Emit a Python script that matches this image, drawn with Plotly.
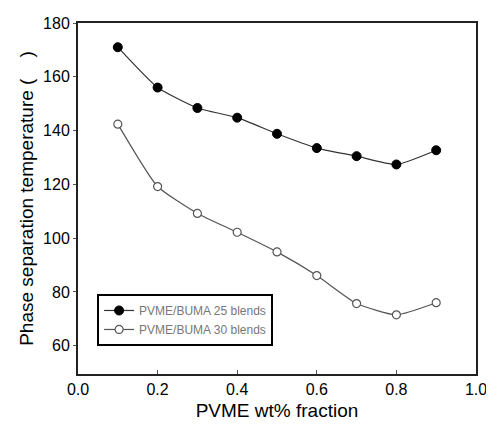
import plotly.graph_objects as go

# PVME weight fraction
pvme_frac = [0.1, 0.2, 0.3, 0.4, 0.5, 0.6, 0.7, 0.8, 0.9]

# phase separation temperature
temp_25 = [171, 156, 148.4, 144.8, 138.8, 133.5, 130.5, 127.4, 132.7]
temp_30 = [142.4, 119.2, 109.2, 102.2, 94.9, 86.1, 75.7, 71.5, 76]

series_names = ["PVME/BUMA 25 blends", "PVME/BUMA 30 blends"]

fig = go.Figure()

fig.add_trace(go.Scatter(
    x=pvme_frac, y=temp_25, mode="lines+markers", name=series_names[0],
    line=dict(color="#333333", width=1.2, shape="spline", smoothing=0.5),
    marker=dict(symbol="circle", size=9, color="black", line=dict(color="black", width=1)),
))

fig.add_trace(go.Scatter(
    x=pvme_frac, y=temp_30, mode="lines+markers", name=series_names[1],
    line=dict(color="#555555", width=1.2, shape="spline", smoothing=0.5),
    marker=dict(symbol="circle", size=8, color="white", line=dict(color="#555555", width=1.2)),
))

# page body has an 8px margin, so the figure is shifted by 8px
fig.update_layout(
    width=486, height=417,
    margin=dict(l=70, r=17, t=7, b=51),
    paper_bgcolor="white", plot_bgcolor="white",
    font=dict(family="Liberation Sans, Arial, sans-serif", size=16, color="black"),
    showlegend=True,
    legend=dict(
        x=0.048, y=0.228, xanchor="left", yanchor="top",
        bordercolor="black", borderwidth=2, bgcolor="white",
        font=dict(size=12, color="#777777"),
        tracegroupgap=0, itemwidth=30,
    ),
)

fig.update_xaxes(
    range=[0, 1], tick0=0, dtick=0.2, tickformat=".1f",
    showgrid=False, zeroline=False,
    showline=True, linecolor="#222222", linewidth=2, mirror=True,
    ticks="inside", ticklen=4, tickcolor="#555555",
    title=dict(text="PVME wt% fraction", font=dict(size=19), standoff=6),
)

fig.update_yaxes(
    range=[49.5, 180], tick0=60, dtick=20,
    showgrid=False, zeroline=False,
    showline=True, linecolor="#222222", linewidth=2, mirror=True,
    ticks="outside", ticklen=3, tickcolor="#555555",
    title=dict(text="Phase separation temperature (    )", font=dict(size=19), standoff=4),
)

fig.write_html("out.html")
